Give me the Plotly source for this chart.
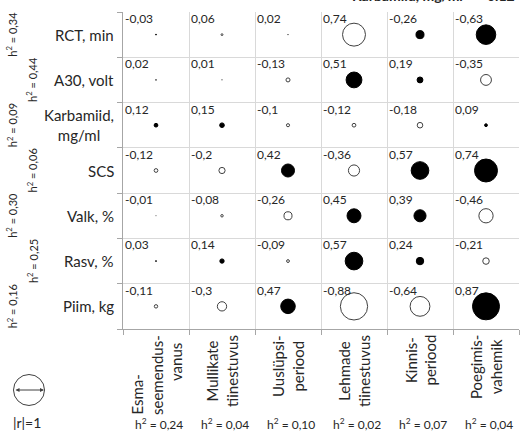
import plotly.graph_objects as go

# Correlation matrix: milk/quality traits (rows) vs. fertility traits (columns)
row_labels = ["RCT, min", "A30, volt", "Karbamiid,<br>mg/ml", "SCS", "Valk, %", "Rasv, %", "Piim, kg"]
row_h2 = ["0,34", "0,44", "0,09", "0,06", "0,30", "0,25", "0,16"]
# direction in which a trait is favourable (RCT: shorter is better)
row_direction = [-1, 1, 1, 1, 1, 1, 1]

col_labels = [
    "Esma-" + "\u00a0" * 10 + "<br>seemendus-<br>" + "\u00a0" * 7 + "vanus",
    "Mullikate<br>tiinestuvus",
    "Uuslüpsi-<br>periood",
    "Lehmade<br>tiinestuvus",
    "Kinnis-<br>periood",
    "Poegimis-<br>vahemik",
]
col_h2 = ["0,24", "0,04", "0,10", "0,02", "0,07", "0,04"]

r_rct = [-0.03, 0.06, 0.02, 0.74, -0.26, -0.63]
r_a30 = [0.02, 0.01, -0.13, 0.51, 0.19, -0.35]
r_karb = [0.12, 0.15, -0.10, -0.12, -0.18, 0.09]
r_scs = [-0.12, -0.20, 0.42, -0.36, 0.57, 0.74]
r_valk = [-0.01, -0.08, -0.26, 0.45, 0.39, -0.46]
r_rasv = [0.03, 0.14, -0.09, 0.57, 0.24, -0.21]
r_piim = [-0.11, -0.30, 0.47, -0.88, -0.64, 0.87]
r_matrix = [r_rct, r_a30, r_karb, r_scs, r_valk, r_rasv, r_piim]

FONT = "Lato"
TXT = "#262626"
W, H = 521, 431
L, R, T, B = 123, 2, 12, 102          # margins in px
PW, PH = W - L - R, H - T - B


def px_x(x):
    return (x - L) / PW


def px_y(y):
    return (H - B - y) / PH


n_rows, n_cols = len(row_labels), len(col_labels)
D1 = 31  # marker diameter for |r| = 1

xs, ys, sizes, fills, lines = [], [], [], [], []
annotations = []
for i, row in enumerate(r_matrix):
    for j, v in enumerate(row):
        xs.append(j + 0.5)
        ys.append(i + 0.5)
        sizes.append(abs(v) * D1)
        favourable = v * row_direction[i] > 0
        fills.append("black" if favourable else "white")
        lines.append("black" if favourable else "#404040")
        annotations.append(dict(
            x=j, y=i, xref="x", yref="y", text=f"{v:g}".replace(".", ","),
            showarrow=False, xanchor="left", yanchor="top", xshift=0, yshift=3,
            font=dict(family=FONT, size=12, color=TXT),
        ))

fig = go.Figure(go.Scatter(
    x=xs, y=ys, mode="markers", hoverinfo="skip",
    marker=dict(size=sizes, color=fills, line=dict(color=lines, width=1), opacity=1),
    cliponaxis=False,
))

# row labels and their heritabilities
for i, lab in enumerate(row_labels):
    annotations.append(dict(
        x=0, xref="paper", xshift=-7, y=i + 0.5, yref="y", text=lab,
        showarrow=False, xanchor="right", yanchor="middle", align="center",
        font=dict(family=FONT, size=15, color=TXT),
    ))
    annotations.append(dict(
        x=px_x(12 if i % 2 == 0 else 32), xref="paper", y=i + 0.5, yref="y",
        text=f"h<sup>2</sup> = {row_h2[i]}", textangle=-90, showarrow=False,
        xanchor="center", yanchor="middle",
        font=dict(family=FONT, size=11, color=TXT),
    ))

# column labels and their heritabilities
for j, lab in enumerate(col_labels):
    annotations.append(dict(
        x=j + 0.5, xref="x", y=px_y(333), yref="paper", text=lab, textangle=-90,
        showarrow=False, xanchor="center", yanchor="top", align="center",
        font=dict(family=FONT, size=15, color=TXT),
    ))
    annotations.append(dict(
        x=j + 0.5, xref="x", xshift=3, y=px_y(424), yref="paper",
        text=f"h<sup>2</sup> = {col_h2[j]}", showarrow=False,
        xanchor="center", yanchor="middle",
        font=dict(family=FONT, size=12, color=TXT),
    ))

# size key: circle for |r| = 1 with a double-headed arrow across it
annotations.append(dict(
    x=px_x(44), y=px_y(390), xref="paper", yref="paper",
    ax=-30, ay=0, axref="pixel", ayref="pixel",
    text="", showarrow=True, arrowside="end+start", arrowhead=2,
    arrowsize=0.8, arrowwidth=1, arrowcolor="#404040",
))
annotations.append(dict(
    x=px_x(26.5), y=px_y(422), xref="paper", yref="paper", text="|r|=1",
    showarrow=False, xanchor="center", yanchor="middle",
    font=dict(family=FONT, size=14, color=TXT),
))

# heading of the neighbouring table, cut by the top edge
annotations.append(dict(
    x=px_x(350), y=px_y(6), xref="paper", yref="paper", text="<b>Karbamiid, mg/ml</b>",
    showarrow=False, xanchor="left", yanchor="bottom",
    font=dict(family=FONT, size=14, color=TXT),
))
annotations.append(dict(
    x=px_x(517), y=px_y(6), xref="paper", yref="paper", text="<b>0.12</b>",
    showarrow=False, xanchor="right", yanchor="bottom",
    font=dict(family=FONT, size=14, color=TXT),
))

shapes = [dict(
    type="circle", xref="paper", yref="paper",
    x0=px_x(13.5), x1=px_x(44.5), y0=px_y(374.5), y1=px_y(405.5),
    line=dict(color="#404040", width=1), fillcolor="rgba(0,0,0,0)",
)]

axis_common = dict(
    showgrid=True, gridcolor="#d9d9d9", gridwidth=1, zeroline=False,
    showticklabels=False, ticks="outside", ticklen=5, tickcolor="#a6a6a6",
    showline=True, linecolor="#a6a6a6", linewidth=1,
)
fig.update_layout(
    width=W, height=H, margin=dict(l=L, r=R, t=T, b=B),
    paper_bgcolor="white", plot_bgcolor="white", showlegend=False,
    xaxis=dict(range=[0, n_cols], tickvals=list(range(n_cols + 1)), **axis_common),
    yaxis=dict(range=[n_rows, 0], tickvals=list(range(n_rows + 1)), **axis_common),
    annotations=annotations, shapes=shapes,
)

fig.write_html("out.html")
